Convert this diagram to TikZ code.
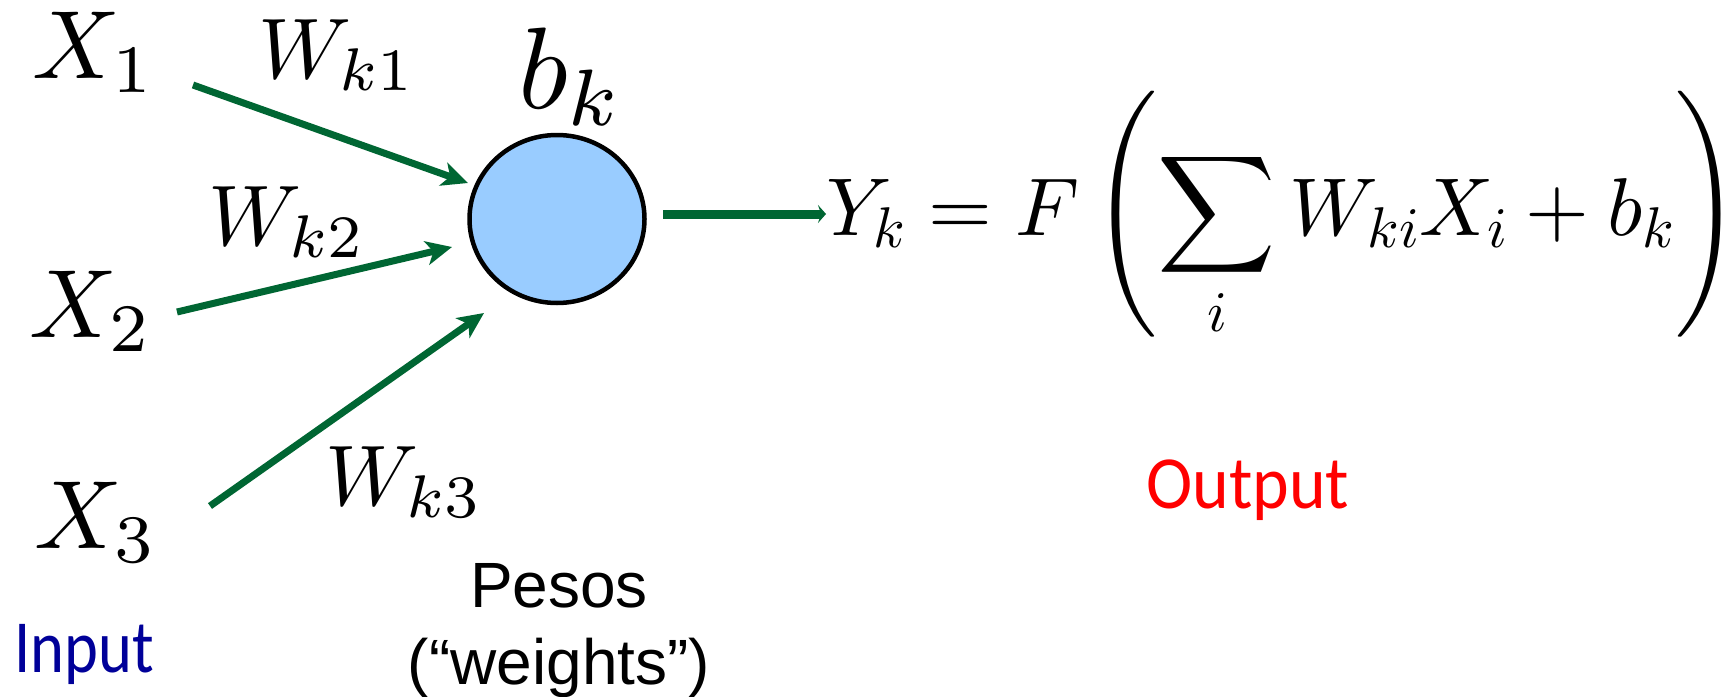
\RequirePackage{fix-cm}
\documentclass[tikz,border=0pt]{standalone}
\usepackage{fontspec}
\usepackage{amsmath}
\DeclareFontShape{OML}{cmm}{m}{it}{<-58>cmmi10<58-81>cmmi7<81->cmmi10}{}
\DeclareFontShape{OT1}{cmr}{m}{n}{<-58>cmr10<58-81>cmr7<81->cmr10}{}
\DeclareFontShape{OMS}{cmsy}{m}{n}{<-58>cmsy10<58-81>cmsy7<81->cmsy10}{}
\DeclareFontShape{OMX}{cmex}{m}{n}{<->cmex10}{}
\DeclareMathSizes{116}{116}{80}{58}
\newfontfamily\carl{Carlito}
\newfontfamily\arialf{Liberation Sans}
\usetikzlibrary{arrows.meta,shapes.geometric}
\definecolor{arrgreen}{RGB}{0,102,51}
\definecolor{nodeblue}{RGB}{153,204,255}
\definecolor{inblue}{RGB}{0,0,153}
\tikzset{
  lbl/.style={inner sep=0pt, outer sep=0pt, anchor=base west},
  xlbl/.style={lbl, font=\fontsize{97}{97}\selectfont},
  wlbl/.style={lbl, font=\fontsize{86}{86}\selectfont},
  sans/.style={inner sep=0pt, anchor=base, font=\arialf\fontsize{64}{80}\selectfont},
  conn/.style={draw=arrgreen, line width=7pt,
    -{Stealth[length=26pt,width=24pt,inset=7pt]}},
  neuron/.style={ellipse, draw=black, line width=4.5pt, fill=nodeblue,
    minimum width=175pt, minimum height=168pt, inner sep=0pt}
}
\begin{document}
\begin{tikzpicture}[x=1pt,y=-1pt]
\useasboundingbox (0,0) rectangle (1736,696);
% inputs
\node[xlbl] (x1) at (32,78) {$X_1$};
\node[xlbl] (x2) at (29,337) {$X_2$};
\node[xlbl] (x3) at (34,548) {$X_3$};
% weights
\node[wlbl] (w1) at (258,78) {$W_{k1}$};
\node[wlbl] (w2) at (208,245) {$W_{k2}$};
\node[wlbl] (w3) at (325,505) {$W_{k3}$};
% neuron
\node[neuron] (n) at (557,219) {};
\node[lbl, font=\fontsize{116}{116}\selectfont] (b) at (518,108) {$b_k$};
% formula
\node[lbl, font=\fontsize{82}{82}\selectfont] (f) at (826,235)
  {$\displaystyle Y_k = F\left(\sum_i W_{ki}X_i + b_k\right)$};
% texts
\node[inner sep=0pt, anchor=base, text=red, font=\carl\fontsize{75}{75}\selectfont] (out) at (1248,508) {\scalebox{0.93}[1]{Output}};
\node[inner sep=0pt, anchor=base, text=inblue, font=\carl\fontsize{75}{75}\selectfont] (in) at (84,672) {\scalebox{0.86}[1]{Input}};
\node[sans] (pesos) at (559,607) {Pesos};
\node[sans] (weights) at (559,684) {(“weights”)};
% connector end points
\coordinate (s1) at (193,85);
\coordinate (t1) at (468,183);
\coordinate (s2) at (177,312);
\coordinate (t2) at (452,247);
\coordinate (s3) at (210,506);
\coordinate (t3) at (484,313);
\coordinate (so) at (663,214);
\draw[conn] (s1) -- (t1);
\draw[conn] (s2) -- (t2);
\draw[conn] (s3) -- (t3);
\draw[draw=arrgreen, line width=9pt, -{Stealth[length=8pt,width=18pt,inset=3pt]}] (so) -- (f.west |- so);
\end{tikzpicture}
\end{document}
